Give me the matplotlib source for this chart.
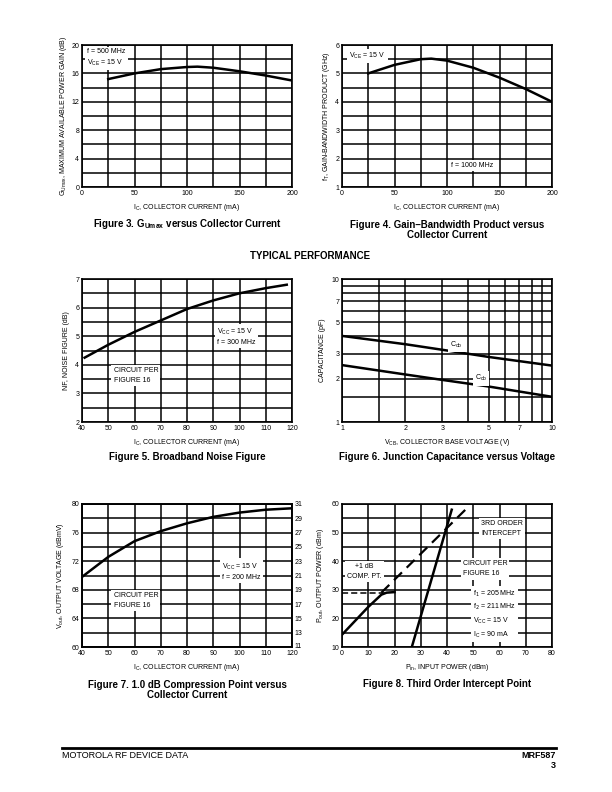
'''MRF587 datasheet page 3: typical performance curves.'''

import numpy as np
import matplotlib
matplotlib.use("Agg")
import matplotlib.pyplot as plt
from matplotlib.ticker import FixedLocator, NullFormatter, NullLocator
from matplotlib.transforms import ScaledTranslation

plt.rcParams['font.family'] = ['Liberation Sans', 'DejaVu Sans']

# Figure 3: G_Umax vs collector current
gu_ic = [25, 50, 75, 100, 110, 125, 150, 175, 200]
gu_db = [15.2, 16.0, 16.6, 16.9, 16.95, 16.8, 16.3, 15.7, 15.0]

# Figure 4: fT vs collector current
ft_ic = [25, 50, 75, 85, 100, 125, 150, 175, 200]
ft_ghz = [5.0, 5.3, 5.5, 5.52, 5.45, 5.2, 4.85, 4.45, 4.0]

# Figure 5: noise figure vs collector current
nf_ic = [41, 50, 60, 70, 80, 90, 100, 110, 118]
nf_db = [4.25, 4.7, 5.15, 5.55, 5.95, 6.25, 6.5, 6.68, 6.8]

# Figure 6: junction capacitance vs VCB
vcb = [1, 2, 3, 5, 10]
cob_pf = [4.0, 3.5, 3.2, 2.85, 2.48]
ccb_pf = [2.5, 2.15, 1.97, 1.77, 1.5]

# Figure 7: 1 dB compression output voltage vs collector current
cp_ic = [40, 50, 60, 70, 80, 90, 100, 110, 120]
cp_dbmv = [69.8, 72.6, 74.8, 76.2, 77.3, 78.2, 78.8, 79.2, 79.4]

# Figure 8: third order intercept
fund_pin = [0, 10, 15, 17, 20]
fund_pout = [14.3, 24.0, 28.3, 29.0, 29.2]
ext_pin = [15, 47]
ext_pout = [29.0, 58.0]
comp_pin = [0, 17]
comp_pout = [29.0, 29.0]
im3_pin = [26.6, 41.8]
im3_pout = [10.0, 58.0]

W, H = 612, 792
fig = plt.figure(figsize=(W / 100, H / 100), dpi=100)

TICK = 5
LAB = 5
CAP = 7
box = dict(facecolor='white', edgecolor='none', pad=1.5)


def add_ax(l, t, r, b):
    return fig.add_axes([l / W, 1 - b / H, (r - l) / W, (b - t) / H])


def style(ax, xgrid, ygrid):
    ax.xaxis.set_minor_locator(FixedLocator(xgrid))
    ax.yaxis.set_minor_locator(FixedLocator(ygrid))
    ax.grid(which='both', color='black', lw=1.1)
    ax.tick_params(which='both', length=0, labelsize=TICK, pad=2)
    for s in ax.spines.values():
        s.set_linewidth(1.2)


def caption(x, y, s):
    fig.text(x / W, 1 - y / H, s, ha='center', va='center', fontsize=CAP,
             fontweight='bold', linespacing=1.1)


# ---- Figure 3
ax = add_ax(82, 45, 292, 187)
ax.plot(gu_ic, gu_db, color='black', lw=1.8)
ax.set_xlim(0, 200)
ax.set_ylim(0, 20)
ax.set_xticks(np.arange(0, 201, 50))
ax.set_yticks(np.arange(0, 21, 4))
style(ax, np.arange(0, 201, 25), np.arange(0, 21, 2))
ax.text(5, 18.2, 'f = 500 MHz\nV$_{\\mathregular{CE}}$ = 15 V', fontsize=TICK,
        va='center', bbox=box, linespacing=1.4)
ax.set_xlabel('I$_\\mathregular{C}$, COLLECTOR CURRENT (mA)', fontsize=LAB, labelpad=4)
ax.set_ylabel('G$_\\mathregular{Umax}$, MAXIMUM AVAILABLE POWER GAIN (dB)', fontsize=LAB, labelpad=2)
caption(187, 224, 'Figure 3. G$_\\mathregular{Umax}$ versus Collector Current')

# ---- Figure 4
ax = add_ax(342, 45, 552, 187)
ax.plot(ft_ic, ft_ghz, color='black', lw=1.8)
ax.set_xlim(0, 200)
ax.set_ylim(1, 6)
ax.set_xticks(np.arange(0, 201, 50))
ax.set_yticks(np.arange(1, 7, 1))
style(ax, np.arange(0, 201, 25), np.arange(1, 6.01, 0.5))
ax.text(7, 5.62, 'V$_{\\mathregular{CE}}$ = 15 V', fontsize=TICK, va='center', bbox=box)
ax.text(124, 1.75, 'f = 1000 MHz', fontsize=TICK, va='center', ha='center', bbox=box)
ax.set_xlabel('I$_\\mathregular{C}$, COLLECTOR CURRENT (mA)', fontsize=LAB, labelpad=4)
ax.set_ylabel('f$_\\mathregular{T}$, GAIN-BANDWIDTH PRODUCT (GHz)', fontsize=LAB, labelpad=2)
caption(447, 230, 'Figure 4. Gain\u2013Bandwidth Product versus\nCollector Current')

fig.text(310 / W, 1 - 256 / H, 'TYPICAL PERFORMANCE', ha='center', va='center',
         fontsize=CAP, fontweight='bold')

# ---- Figure 5
ax = add_ax(82, 279, 292, 422)
ax.plot(nf_ic, nf_db, color='black', lw=1.8)
ax.set_xlim(40, 120)
ax.set_ylim(2, 7)
ax.set_xticks(np.arange(40, 121, 10))
ax.set_yticks(np.arange(2, 8, 1))
style(ax, np.arange(40, 121, 10), np.arange(2, 7.01, 0.5))
ax.text(91.5, 4.98, 'V$_{\\mathregular{CC}}$ = 15 V\nf = 300 MHz', fontsize=TICK,
        va='center', bbox=box, linespacing=1.4)
ax.text(52, 3.62, 'CIRCUIT PER\nFIGURE 16', fontsize=TICK, va='center', bbox=box,
        linespacing=1.6)
ax.set_xlabel('I$_\\mathregular{C}$, COLLECTOR CURRENT (mA)', fontsize=LAB, labelpad=4)
ax.set_ylabel('NF, NOISE FIGURE (dB)', fontsize=LAB, labelpad=4)
caption(187, 457, 'Figure 5. Broadband Noise Figure')

# ---- Figure 6
ax = add_ax(342, 279, 552, 422)
ax.plot(vcb, cob_pf, color='black', lw=1.8)
ax.plot(vcb, ccb_pf, color='black', lw=1.8)
ax.set_xscale('log')
ax.set_yscale('log')
ax.set_xlim(1, 10)
ax.set_ylim(1, 10)
ax.set_xticks([1, 2, 3, 5, 7, 10])
ax.set_yticks([1, 2, 3, 5, 7, 10])
ax.set_xticklabels(['1', '2', '3', '5', '7', '10'])
ax.set_yticklabels(['1', '2', '3', '5', '7', '10'])
ax.xaxis.set_minor_formatter(NullFormatter())
ax.yaxis.set_minor_formatter(NullFormatter())
style(ax, [1.5, 2, 3, 4, 5, 6, 7, 8, 9], [1.5, 2, 3, 4, 5, 6, 7, 8, 9])
ax.text(3.5, 3.45, 'C$_\\mathregular{ob}$', fontsize=TICK, ha='center', va='center', bbox=box)
ax.text(4.6, 2.02, 'C$_\\mathregular{cb}$', fontsize=TICK, ha='center', va='center', bbox=box)
ax.set_xlabel('V$_\\mathregular{CB}$, COLLECTOR BASE VOLTAGE (V)', fontsize=LAB, labelpad=4)
ax.set_ylabel('CAPACITANCE (pF)', fontsize=LAB, labelpad=4)
caption(447, 457, 'Figure 6. Junction Capacitance versus Voltage')

# ---- Figure 7
ax = add_ax(82, 504, 292, 647)
ax.plot(cp_ic, cp_dbmv, color='black', lw=1.8)
ax.set_xlim(40, 120)
ax.set_ylim(60, 80)
ax.set_xticks(np.arange(40, 121, 10))
ax.set_yticks(np.arange(60, 81, 4))
style(ax, np.arange(40, 121, 10), np.arange(60, 81, 2))
ax.text(93.5, 70.6, 'V$_{\\mathregular{CC}}$ = 15 V\nf = 200 MHz', fontsize=TICK,
        va='center', bbox=box, linespacing=1.4)
ax.text(52, 66.5, 'CIRCUIT PER\nFIGURE 16', fontsize=TICK, va='center', bbox=box,
        linespacing=1.6)
ax.set_xlabel('I$_\\mathregular{C}$, COLLECTOR CURRENT (mA)', fontsize=LAB, labelpad=4)
ax.set_ylabel('V$_\\mathregular{out}$, OUTPUT VOLTAGE (dBmV)', fontsize=LAB, labelpad=4)
ax2 = ax.twinx()
ax2.set_ylim(11, 31)
ax2.set_yticks(np.arange(11, 32, 2))
ax2.yaxis.set_minor_locator(NullLocator())
ax2.tick_params(length=0, labelsize=TICK, pad=2)
for s in ax2.spines.values():
    s.set_linewidth(1.2)
# nudge the bottom right-hand label up so it clears the "120"
lbl = ax2.get_yticklabels()[0]
lbl.set_transform(lbl.get_transform() + ScaledTranslation(0, 2 / 100, fig.dpi_scale_trans))
caption(187, 690, 'Figure 7. 1.0 dB Compression Point versus\nCollector Current')

# ---- Figure 8
ax = add_ax(342, 504, 552, 647)
ax.plot(fund_pin, fund_pout, color='black', lw=1.8)
ax.plot(ext_pin, ext_pout, color='black', lw=1.6, ls=(0, (5, 3)))
ax.plot(comp_pin, comp_pout, color='black', lw=1.1, ls=(0, (4, 2)))
ax.plot(im3_pin, im3_pout, color='black', lw=1.8)
ax.set_xlim(0, 80)
ax.set_ylim(10, 60)
ax.set_xticks(np.arange(0, 81, 10))
ax.set_yticks(np.arange(10, 61, 10))
style(ax, np.arange(0, 81, 10), np.arange(10, 61, 5))
ax.text(53, 51.3, '3RD ORDER\nINTERCEPT', fontsize=TICK, va='center', bbox=box,
        linespacing=1.6)
ax.text(46, 37.3, 'CIRCUIT PER\nFIGURE 16', fontsize=TICK, va='center', bbox=box,
        linespacing=1.6)
ax.text(8.5, 36.5, '+1 dB\nCOMP. PT.', fontsize=TICK, ha='center', va='center',
        bbox=box, linespacing=1.6)
ax.text(50, 21.5, 'f$_1$ = 205 MHz\nf$_2$ = 211 MHz\nV$_{\\mathregular{CC}}$ = 15 V\n'
        'I$_\\mathregular{C}$ = 90 mA', fontsize=TICK, va='center', bbox=box,
        linespacing=1.5)
ax.set_xlabel('P$_\\mathregular{in}$, INPUT POWER (dBm)', fontsize=LAB, labelpad=4)
ax.set_ylabel('P$_\\mathregular{out}$, OUTPUT POWER (dBm)', fontsize=LAB, labelpad=4)
caption(447, 684, 'Figure 8. Third Order Intercept Point')

# footer
fig.add_artist(plt.Line2D([62 / W, 556 / W], [1 - 748 / H, 1 - 748 / H], color='black', lw=2))
fig.text(62 / W, 1 - 756 / H, 'MOTOROLA RF DEVICE DATA', fontsize=6.5, va='center')
fig.text(556 / W, 1 - 756 / H, 'MRF587', fontsize=6.5, va='center', ha='right',
         fontweight='bold')
fig.text(556 / W, 1 - 766 / H, '3', fontsize=6.5, va='center', ha='right',
         fontweight='bold')

fig.savefig('out.png', dpi=100)
